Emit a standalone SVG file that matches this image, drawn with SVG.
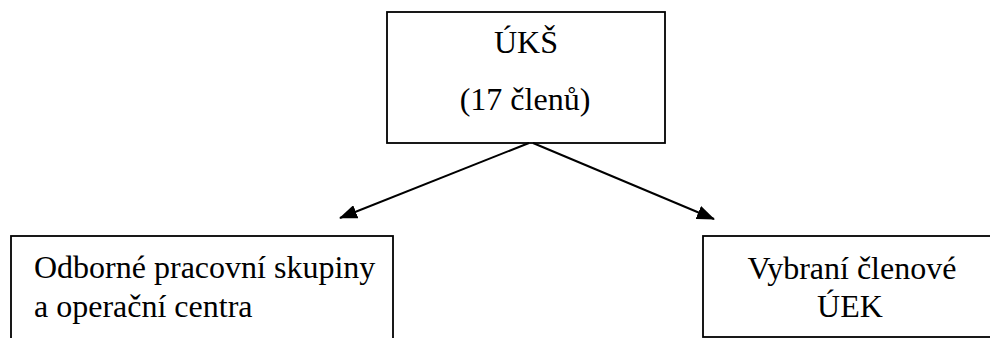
<svg xmlns="http://www.w3.org/2000/svg" width="990" height="338" viewBox="0 0 990 338">
<style>
.box{fill:#fff;stroke:#000;stroke-width:1.8}
.c{text-anchor:middle}
.conn{stroke:#000;stroke-width:2;fill:none}
</style>
<defs>
<marker id="ah" markerUnits="userSpaceOnUse" markerWidth="18" markerHeight="14" refX="17" refY="7" orient="auto">
<path d="M0,0 L18,7 L0,14 z" fill="#000"/>
</marker>
</defs>
<rect width="990" height="338" fill="#fff"/>
<g font-family="Liberation Serif" font-size="32" fill="#000">
<g id="uks">
<rect class="box" x="387" y="12" width="278" height="131"/>
<text class="c" x="526" y="53">ÚKŠ</text>
<text class="c" x="525" y="110">(17 členů)</text>
</g>
<g id="odborne">
<rect class="box" x="11" y="236" width="382" height="120"/>
<text x="34" y="278">Odborné pracovní skupiny</text>
<text x="34" y="317">a operační centra</text>
</g>
<g id="vybrani">
<rect class="box" x="703" y="236" width="400" height="101"/>
<text class="c" x="852" y="279">Vybraní členové</text>
<text class="c" x="850" y="317">ÚEK</text>
</g>
</g>
<g id="connectors">
<line class="conn" x1="529" y1="143" x2="340" y2="218" marker-end="url(#ah)"/>
<line class="conn" x1="533" y1="143" x2="714" y2="219" marker-end="url(#ah)"/>
</g>
</svg>
